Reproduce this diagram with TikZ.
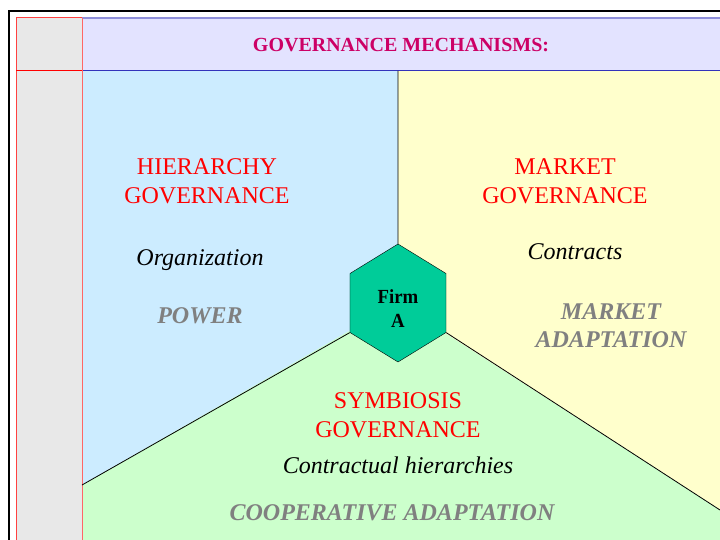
\documentclass[tikz,border=0pt]{standalone}
\usepackage{fontspec}
\setmainfont{Liberation Serif}
\usetikzlibrary{shapes.geometric}
\definecolor{HeadClr}{HTML}{CC0066}
\definecolor{HeadFill}{HTML}{E3E3FF}
\definecolor{HeadLine}{HTML}{3333BB}
\definecolor{SideFill}{HTML}{E8E8E8}
\definecolor{HierClr}{HTML}{CCECFF}
\definecolor{MarketClr}{HTML}{FFFFCC}
\definecolor{SymbClr}{HTML}{CCFFCC}
\definecolor{FirmClr}{HTML}{00CC99}
\definecolor{AdaptClr}{HTML}{808080}

\begin{document}
\begin{tikzpicture}[x=1pt,y=-1pt,
  title/.style={text=red,align=center,font=\fontsize{24}{29}\selectfont},
  mode/.style={font=\fontsize{24}{29}\selectfont\itshape},
  adapt/.style={text=AdaptClr,align=center,font=\fontsize{24}{28}\selectfont\bfseries\itshape},
  firmbox/.style={regular polygon,regular polygon sides=6,shape border rotate=30,
    minimum size=118pt,inner sep=0pt,draw=black,fill=FirmClr,align=center,xscale=0.94,
    font=\fontsize{20}{24}\selectfont\bfseries},
  divider/.style={line width=0.8pt,black}]
\useasboundingbox (0,0) rectangle (720,540);
\fill[white] (0,0) rectangle (720,540);

\fill[SideFill] (16,18) rectangle (82,545);
\fill[HeadFill] (82,18) rectangle (725,71);
\fill[HierClr] (82,71) rectangle (725,545);
\fill[MarketClr] (398,71) -- (725,71) -- (725,513) -- (398,303) -- cycle;
\fill[SymbClr] (82,485) -- (398,303) -- (725,513) -- (725,545) -- (82,545) -- cycle;

\draw[HeadLine!55,line width=1.5pt] (82,18) -- (725,18);
\draw[HeadLine,line width=1pt] (82,71) -- (725,71);
\draw[red!75,line width=1pt] (16,545) -- (16,18) -- (82,18);
\draw[red!60,line width=1pt] (82,18) -- (82,545);
\draw[red,line width=1pt] (16,71) -- (82,71);
\draw[black,line width=2pt] (9,545) -- (9,11) -- (725,11);

\coordinate (top) at (398,71);
\coordinate (left) at (82,485);
\coordinate (right) at (720,510);

\node[firmbox] (firm) at (398,303) {\rule{0pt}{24pt}Firm\\A};
\draw[divider] (firm.90) -- (top);
\draw[divider] (firm.210) -- (left);
\draw[divider] (firm.330) -- (right);

\node[text=HeadClr,font=\fontsize{20}{24}\selectfont\bfseries] (head) at (401,45) {GOVERNANCE MECHANISMS:};

\node[title] (hier) at (207,181) {HIERARCHY\\GOVERNANCE};
\node[mode] (org) at (200,260) {Organization};
\node[adapt] (power) at (200,316) {POWER};

\node[title] (market) at (565,181) {MARKET\\GOVERNANCE};
\node[mode] (contracts) at (575,252) {Contracts};
\node[adapt] (madapt) at (611,326) {MARKET\\ADAPTATION};

\node[title] (symb) at (398,415) {SYMBIOSIS\\GOVERNANCE};
\node[mode] (contr) at (398,465) {Contractual hierarchies};
\node[adapt] (coop) at (392,513) {COOPERATIVE ADAPTATION};
\end{tikzpicture}
\end{document}
